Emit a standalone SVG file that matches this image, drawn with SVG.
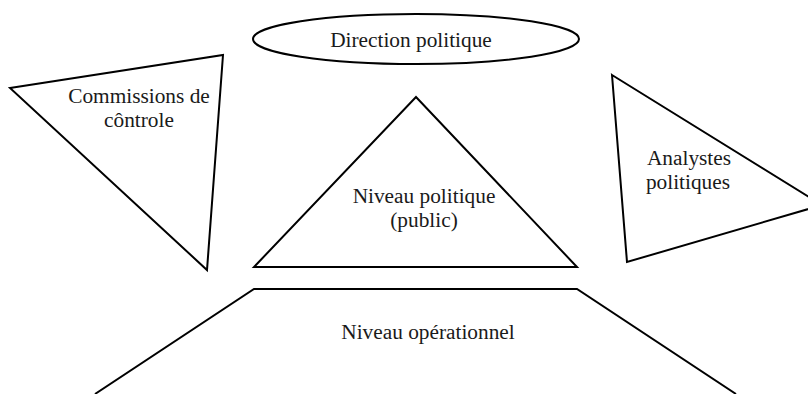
<svg xmlns="http://www.w3.org/2000/svg" width="808" height="394" viewBox="0 0 808 394">
<style>
.s{fill:none;stroke:#000;stroke-width:2;stroke-linejoin:miter}
.t{font-family:'Liberation Serif','DejaVu Serif',serif;font-size:21.33px;fill:#1a1a1a;text-anchor:middle}
</style>
<rect width="808" height="394" fill="#fff"/>
<g id="direction">
<ellipse class="s" cx="416" cy="39" rx="163" ry="25"/>
<text class="t" x="411" y="47">Direction politique</text>
</g>
<g id="commissions">
<polygon class="s" points="10,88 223,55 207,270"/>
<text class="t" x="139" y="103">Commissions de</text>
<text class="t" x="139" y="127">côntrole</text>
</g>
<g id="analystes">
<polygon class="s" points="612,75 822,205 627,262"/>
<text class="t" x="689" y="165">Analystes</text>
<text class="t" x="688" y="189">politiques</text>
</g>
<g id="niveau-politique">
<polygon class="s" points="416,97 577,267 254,267"/>
<text class="t" x="424" y="203">Niveau politique</text>
<text class="t" x="424" y="227">(public)</text>
</g>
<g id="niveau-operationnel">
<polyline class="s" points="95,394 254,289 577,289 736,394"/>
<text class="t" x="428" y="339">Niveau opérationnel</text>
</g>
<g id="connectors"></g>
</svg>
